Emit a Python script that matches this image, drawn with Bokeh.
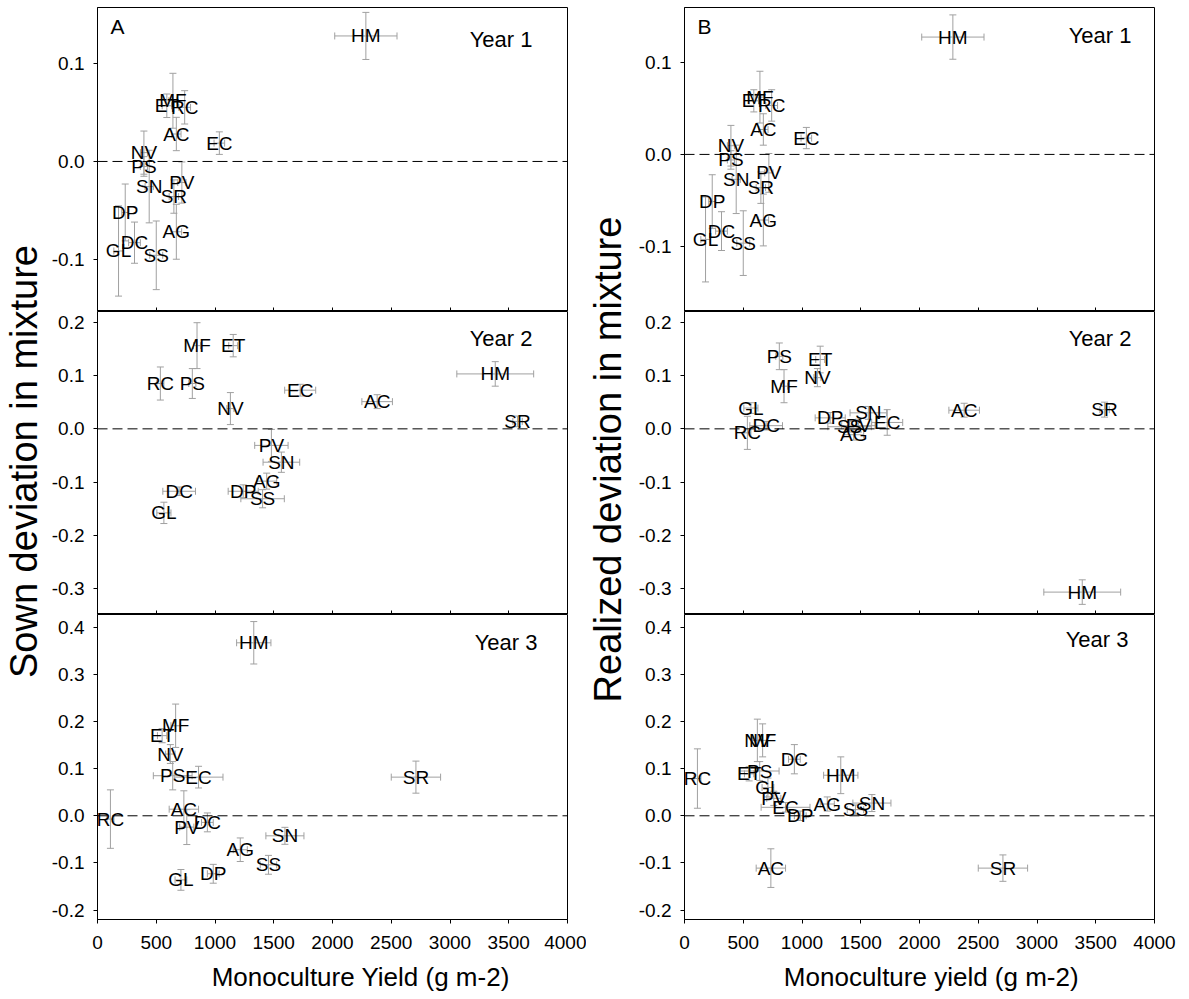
from bokeh.plotting import figure
from bokeh.models import (ColumnDataSource, Whisker, TeeHead, Span, Label,
                          FixedTicker, NumeralTickFormatter, Range1d)
from bokeh.layouts import row, column
from bokeh.embed import file_html
from bokeh.resources import INLINE
from bokeh.core.properties import value
import math

species = ["AC", "AG", "DC", "DP", "EC", "ET", "GL", "HM",
           "MF", "NV", "PS", "PV", "RC", "SN", "SR", "SS"]

# ---- Year 1 -------------------------------------------------------------
yield_y1 = [671, 671, 315, 236, 1037, 590, 179, 2284, 642, 395, 395, 718, 742, 440, 650, 500]
yield_err_y1 = [40, 45, 50, 30, 45, 40, 40, 265, 35, 30, 30, 35, 50, 35, 40, 55]
sown_y1 = [0.028, -0.0717, -0.0828, -0.052, 0.0187, 0.0568, -0.0913, 0.128,
           0.0619, 0.009, -0.0051, -0.0215, 0.0552, -0.0256, -0.0358, -0.0957]
sown_err_y1 = [0.017, 0.028, 0.021, 0.029, 0.0115, 0.012, 0.046, 0.024,
               0.028, 0.022, 0.010, 0.021, 0.017, 0.037, 0.017, 0.035]
real_y1 = [0.027, -0.071, -0.083, -0.051, 0.0177, 0.058, -0.092, 0.127,
           0.062, 0.0094, -0.006, -0.020, 0.053, -0.027, -0.036, -0.096]
real_err_y1 = [0.017, 0.028, 0.021, 0.029, 0.0115, 0.012, 0.046, 0.024,
               0.028, 0.022, 0.010, 0.021, 0.017, 0.037, 0.017, 0.035]

# ---- Year 2 -------------------------------------------------------------
yield_y2 = [2380, 1440, 695, 1240, 1725, 1155, 565, 3385, 847, 1131, 807, 1480, 535, 1565, 3575, 1405]
yield_err_y2 = [130, 85, 139, 128, 132, 38, 60, 327, 30, 30, 30, 142, 30, 156, 40, 185]
sown_y2 = [0.051, -0.098, -0.117, -0.117, 0.0725, 0.156, -0.1575, 0.103,
           0.156, 0.038, 0.085, -0.031, 0.085, -0.0625, 0.014, -0.131]
sown_err_y2 = [0.013, 0.015, 0.008, 0.012, 0.011, 0.021, 0.020, 0.023,
               0.043, 0.030, 0.028, 0.030, 0.031, 0.019, 0.010, 0.017]
real_y2 = [0.035, -0.011, 0.006, 0.0206, 0.012, 0.13, 0.039, -0.306,
           0.08, 0.096, 0.136, 0.006, -0.0075, 0.03, 0.036, 0.004]
real_err_y2 = [0.013, 0.010, 0.008, 0.010, 0.024, 0.025, 0.010, 0.023,
               0.031, 0.017, 0.025, 0.012, 0.031, 0.012, 0.014, 0.010]

# ---- Year 3 -------------------------------------------------------------
yield_y3 = [735, 1215, 935, 985, 860, 550, 710, 1330, 665, 620, 640, 760, 110, 1595, 2710, 1455]
yield_err_y3 = [125, 60, 50, 50, 208, 40, 50, 146, 40, 40, 165, 60, 30, 162, 210, 70]
sown_y3 = [0.014, -0.072, -0.014, -0.123, 0.082, 0.17, -0.136, 0.367,
           0.191, 0.131, 0.085, -0.024, -0.007, -0.0425, 0.082, -0.104]
sown_err_y3 = [0.039, 0.025, 0.020, 0.020, 0.023, 0.015, 0.022, 0.045,
               0.046, 0.020, 0.030, 0.037, 0.062, 0.018, 0.034, 0.020]
real_y3 = [-0.111, 0.025, 0.12, 0.0, 0.018, 0.089, 0.06, 0.086,
           0.16, 0.16, 0.095, 0.037, 0.079, 0.027, -0.111, 0.013]
real_err_y3 = [0.041, 0.015, 0.031, 0.010, 0.010, 0.015, 0.020, 0.039,
               0.035, 0.045, 0.020, 0.015, 0.063, 0.018, 0.028, 0.010]

x_ticks = [0, 500, 1000, 1500, 2000, 2500, 3000, 3500, 4000]

FONT = "Liberation Sans"
GRAY = "#a0a0a0"
FRAME_W = 470
H_TOP, H1, H2, H3, H_TICKS, H_TITLE = 7, 304, 303, 305, 40, 33
TOTAL_H = H_TOP + H1 + H2 + H3 + H_TICKS + H_TITLE


def blank(p):
    p.axis.visible = False
    p.grid.visible = False
    p.outline_line_color = None


def panel(xv, xe, yv, ye, yrange, yticks, frame_h, year_text, year_off,
          letter=None, bottom=False, left=49, right=19, top=0):
    p = figure(x_range=Range1d(0, 4000), y_range=Range1d(*yrange),
               frame_width=FRAME_W, frame_height=frame_h,
               min_border_left=left, min_border_right=right,
               min_border_top=top, min_border_bottom=H_TICKS if bottom else 0,
               output_backend="svg", toolbar_location=None,
               background_fill_color="white", border_fill_color="white")
    p.grid.visible = False
    p.outline_line_color = "black"
    p.outline_line_width = 1

    src = ColumnDataSource(dict(
        x=xv, y=yv, sp=species,
        xl=[a - b for a, b in zip(xv, xe)], xu=[a + b for a, b in zip(xv, xe)],
        yl=[a - b for a, b in zip(yv, ye)], yu=[a + b for a, b in zip(yv, ye)],
    ))

    p.add_layout(Span(location=0, dimension="width", line_color="black",
                      line_width=1, line_dash="10 5"))

    p.add_layout(Whisker(source=src, base="x", lower="yl", upper="yu",
                         dimension="height", line_color=GRAY, line_width=1,
                         lower_head=TeeHead(size=7, line_color=GRAY, line_width=1),
                         upper_head=TeeHead(size=7, line_color=GRAY, line_width=1)))
    p.add_layout(Whisker(source=src, base="y", lower="xl", upper="xu",
                         dimension="width", line_color=GRAY, line_width=1,
                         lower_head=TeeHead(size=7, line_color=GRAY, line_width=1),
                         upper_head=TeeHead(size=7, line_color=GRAY, line_width=1)))

    p.text(x="x", y="y", text="sp", source=src, text_align="center",
           text_baseline="middle", text_font=value(FONT),
           text_font_size="19px", text_color="black")

    y0, y1 = yrange
    xa = p.xaxis[0]
    xa.ticker = FixedTicker(ticks=x_ticks)
    xa.minor_tick_line_color = None
    xa.axis_line_color = "black"
    xa.major_tick_line_color = "black"
    if bottom:
        xa.major_tick_out = 4
        xa.major_tick_in = 0
        xa.major_label_standoff = 12
        xa.major_label_text_font = FONT
        xa.major_label_text_font_size = "19px"
        xa.major_label_text_color = "black"
    else:
        xa.major_tick_out = 0
        xa.major_tick_in = 4
        xa.major_label_standoff = 0
        xa.major_label_text_font_size = "0px"
        xa.major_label_text_color = None

    ya = p.yaxis[0]
    ya.ticker = FixedTicker(ticks=yticks)
    ya.formatter = NumeralTickFormatter(format="0.0")
    ya.minor_tick_line_color = None
    ya.axis_line_color = "black"
    ya.major_tick_line_color = "black"
    ya.major_tick_out = 4
    ya.major_tick_in = 0
    ya.major_label_standoff = 9
    ya.major_label_text_font = FONT
    ya.major_label_text_font_size = "19px"
    ya.major_label_text_color = "black"

    rx, ty = year_off
    p.add_layout(Label(x=4000 - rx / FRAME_W * 4000,
                       y=y1 - ty / frame_h * (y1 - y0),
                       text=year_text, text_align="right", text_baseline="middle",
                       text_font=FONT, text_font_size="22px",
                       text_color="black"))
    if letter:
        p.add_layout(Label(x=13 / FRAME_W * 4000,
                           y=y1 - 19 / frame_h * (y1 - y0),
                           text=letter, text_align="left", text_baseline="middle",
                           text_font=FONT, text_font_size="21px",
                           text_color="black"))
    return p


def x_title(text, center, left, right):
    s = figure(x_range=Range1d(0, 4000), y_range=Range1d(0, H_TITLE),
               frame_width=FRAME_W, frame_height=H_TITLE,
               min_border_left=left, min_border_right=right,
               min_border_top=0, min_border_bottom=0,
               output_backend="svg", toolbar_location=None,
               background_fill_color="white", border_fill_color="white")
    blank(s)
    s.add_layout(Label(x=center, y=H_TITLE - 17, text=text, text_align="center",
                       text_baseline="middle", text_font=FONT,
                       text_font_size="26px", text_color="black"))
    return s


def y_title(width, text, center_x, center_from_top):
    s = figure(x_range=Range1d(0, width), y_range=Range1d(0, TOTAL_H),
               frame_width=width, frame_height=TOTAL_H,
               min_border_left=0, min_border_right=0,
               min_border_top=0, min_border_bottom=0,
               output_backend="svg", toolbar_location=None,
               background_fill_color="white", border_fill_color="white")
    blank(s)
    s.add_layout(Label(x=center_x, y=TOTAL_H - center_from_top,
                       text=text, angle=math.pi / 2, text_align="center",
                       text_baseline="middle", text_font=FONT,
                       text_font_size="38px", text_color="black"))
    return s


R1 = (-0.153, 0.157)
RB1 = (-0.170, 0.159)
R2 = (-0.348, 0.22)
R3 = (-0.22, 0.427)
T1 = [-0.1, 0.0, 0.1]
T2 = [-0.3, -0.2, -0.1, 0.0, 0.1, 0.2]
T3 = [-0.2, -0.1, 0.0, 0.1, 0.2, 0.3, 0.4]

LA, RA = 49, 19
a1 = panel(yield_y1, yield_err_y1, sown_y1, sown_err_y1, R1, T1, H1,
           "Year 1", (35, 32), letter="A", top=H_TOP, left=LA, right=RA)
a2 = panel(yield_y2, yield_err_y2, sown_y2, sown_err_y2, R2, T2, H2,
           "Year 2", (35, 27), left=LA, right=RA)
a3 = panel(yield_y3, yield_err_y3, sown_y3, sown_err_y3, R3, T3, H3,
           "Year 3", (30, 28), bottom=True, left=LA, right=RA)
ax = x_title("Monoculture Yield (g m-2)", 2240, LA, RA)

LB, RBD = 51, 25
b1 = panel(yield_y1, yield_err_y1, real_y1, real_err_y1, RB1, T1, H1,
           "Year 1", (23, 28), letter="B", top=H_TOP, left=LB, right=RBD)
b2 = panel(yield_y2, yield_err_y2, real_y2, real_err_y2, R2, T2, H2,
           "Year 2", (23, 27), left=LB, right=RBD)
b3 = panel(yield_y3, yield_err_y3, real_y3, real_err_y3, R3, T3, H3,
           "Year 3", (26, 25), bottom=True, left=LB, right=RBD)
bx = x_title("Monoculture yield (g m-2)", 2100, LB, RBD)

ta = y_title(48, "Sown deviation in mixture", 23.3, 461)
tb = y_title(47, "Realized deviation in mixture", 21.4, 459)

layout = row(ta, column(a1, a2, a3, ax), tb, column(b1, b2, b3, bx))

with open("out.html", "w") as f:
    f.write(file_html(layout, INLINE))
